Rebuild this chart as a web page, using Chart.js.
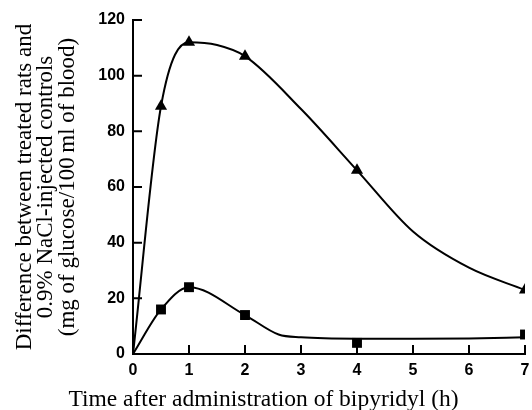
<!DOCTYPE html>
<html>
<head>
<meta charset="utf-8">
<script src="https://cdn.jsdelivr.net/npm/chart.js@4"></script>
<style>
  html, body { margin: 0; padding: 0; background: #fff; }
  #wrap { width: 532px; height: 410px; }
</style>
</head>
<body>
<div id="wrap"><canvas id="glucoseChart"></canvas></div>
<script>
// measured points (h after bipyridyl)
const hours = [0.5, 1, 2, 4, 7];
const triangleValues = [89, 112, 107, 66, 23];
const squareValues = [16, 24, 14, 4, 7];

// hand-drawn fitted curves
const triangleCurveHours = [0, 0.5, 1, 1.5, 2, 3, 4, 5, 6, 7];
const triangleCurveValues = [0, 89, 112, 111, 107, 88, 66, 44, 31, 23];
const squareCurveHours = [0, 0.5, 1, 2, 2.6, 3, 4, 5, 6, 7];
const squareCurveValues = [0, 16, 24, 14, 7, 6, 5.5, 5.5, 5.6, 6];

const xTicks = [0, 1, 2, 3, 4, 5, 6, 7];
const yTicks = [0, 20, 40, 60, 80, 100, 120];

const pairs = (xs, ys) => xs.map((x, i) => ({ x: x, y: ys[i] }));

const tickFont = { family: '"Liberation Sans", Arial, sans-serif', size: 16, weight: 'bold' };
const serif = '"Liberation Serif", "Times New Roman", serif';

// short tick marks pointing into the plot
const innerTicks = {
    id: 'innerTicks',
    afterDraw(chart) {
        const c = chart.ctx;
        const xs = chart.scales.x;
        const ys = chart.scales.y;
        c.save();
        c.strokeStyle = '#000';
        c.lineWidth = 2;
        c.beginPath();
        xTicks.forEach(v => {
            const px = xs.getPixelForValue(v);
            c.moveTo(px, ys.bottom);
            c.lineTo(px, ys.bottom - 9);
        });
        yTicks.forEach(v => {
            const py = ys.getPixelForValue(v);
            c.moveTo(xs.left, py);
            c.lineTo(xs.left + 9, py);
        });
        c.stroke();
        c.restore();
    }
};

const ctx = document.getElementById('glucoseChart');
new Chart(ctx, {
    type: 'scatter',
    data: {
        datasets: [
            {
                data: pairs(triangleCurveHours, triangleCurveValues),
                showLine: true,
                borderColor: '#000',
                borderWidth: 2,
                pointRadius: 0,
                cubicInterpolationMode: 'monotone'
            },
            {
                data: pairs(squareCurveHours, squareCurveValues),
                showLine: true,
                borderColor: '#000',
                borderWidth: 2,
                pointRadius: 0,
                cubicInterpolationMode: 'monotone'
            },
            {
                data: pairs(hours, triangleValues),
                pointStyle: 'triangle',
                pointRadius: 7,
                backgroundColor: '#000',
                borderColor: '#000',
                borderWidth: 0
            },
            {
                data: pairs(hours, squareValues),
                pointStyle: 'rect',
                pointRadius: 7,
                backgroundColor: '#000',
                borderColor: '#000',
                borderWidth: 0
            }
        ]
    },
    options: {
        responsive: true,
        maintainAspectRatio: false,
        animation: false,
        layout: { padding: { left: 0, right: 5, top: 20, bottom: 0 } },
        plugins: {
            legend: { display: false },
            tooltip: { enabled: false },
            title: {
                display: true,
                position: 'bottom',
                text: 'Time after administration of bipyridyl (h)',
                color: '#000',
                font: { family: serif, size: 23.5, weight: 'normal', lineHeight: 0.9 },
                padding: { top: 4, bottom: 0 }
            }
        },
        scales: {
            x: {
                type: 'linear',
                min: 0,
                max: 7,
                afterBuildTicks: (scale) => { scale.ticks = xTicks.map(v => ({ value: v })); },
                afterFit: (scale) => {
                    scale.height = 410 - 354 - 25.15;
                    scale.paddingLeft = 0;
                    scale.paddingRight = 4;
                },
                border: { color: '#000', width: 2 },
                grid: { drawOnChartArea: false, drawTicks: false },
                ticks: { color: '#000', font: tickFont, padding: 7, maxRotation: 0 }
            },
            y: {
                type: 'linear',
                min: 0,
                max: 120,
                afterBuildTicks: (scale) => { scale.ticks = yTicks.map(v => ({ value: v })); },
                afterFit: (scale) => {
                    scale.width = 133;
                    scale.paddingTop = 0;
                    scale.paddingBottom = 0;
                },
                border: { color: '#000', width: 2 },
                grid: { drawOnChartArea: false, drawTicks: false },
                ticks: { color: '#000', font: tickFont, padding: 8 },
                title: {
                    display: true,
                    text: [
                        'Difference between treated rats and',
                        '0.9% NaCl-injected controls',
                        '(mg of glucose/100\u2009ml of blood)'
                    ],
                    color: '#000',
                    font: { family: serif, size: 23, lineHeight: 0.93 },
                    padding: { top: 14, bottom: 0 }
                }
            }
        }
    },
    plugins: [innerTicks]
});
</script>
</body>
</html>
